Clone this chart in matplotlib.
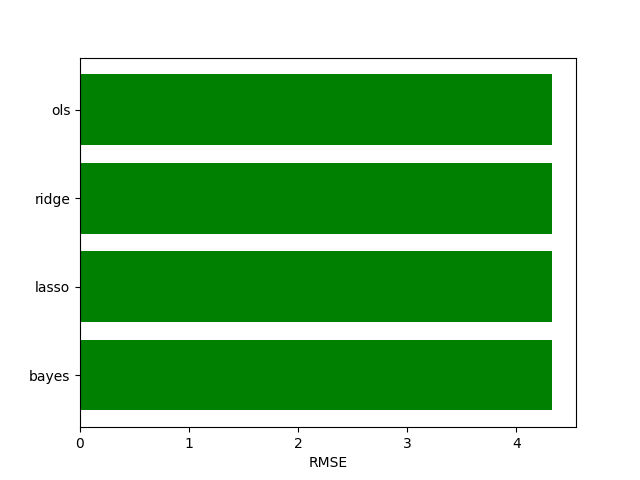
import matplotlib
matplotlib.use("Agg")
import matplotlib.pyplot as plt

models = ['bayes', 'lasso', 'ridge', 'ols']
rmse = [4.33, 4.33, 4.33, 4.33]

fig, ax = plt.subplots(figsize=(6.4, 4.8), dpi=100)
ax.barh(models, rmse, color='green')
ax.set_xlabel('RMSE')
fig.savefig('out.png')
